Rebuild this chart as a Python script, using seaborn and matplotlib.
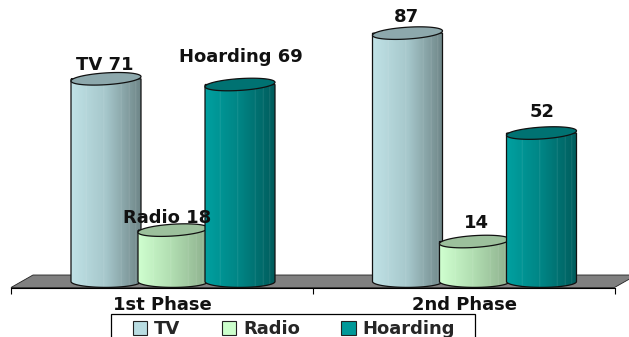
import numpy as np
import pandas as pd
import matplotlib
matplotlib.use("Agg")
import matplotlib.pyplot as plt
from matplotlib.colors import LinearSegmentedColormap
from matplotlib.path import Path
from matplotlib.patches import PathPatch, Polygon, Patch, Rectangle
import seaborn as sns

phases = ["1st Phase", "2nd Phase"]
series = ["TV", "Radio", "Hoarding"]
tv = [71, 87]
radio = [18, 14]
hoarding = [69, 52]
named_phase = [True, False]

swatch = ["#B9DDE2", "#CCFFCC", "#009999"]
shades = [["#C0E2E6", "#A6C7CB", "#6F8688"],
          ["#CFFFCF", "#B0DCB0", "#8DB08D"],
          ["#00A0A0", "#008484", "#005C5C"]]
caps = ["#8DA8AC", "#9CC09C", "#007272"]
stripes = [0.22, 0.47, 0.72, 0.84, 0.93]

W, H = 629, 337
base_px, axis_px = 281.5, 287.5
unit_px = 2.855
group_px = [173.0, 474.5]
step_px = group_px[1] - group_px[0]
tick_px = [11.0, 312.5, 614.5]
label_px = [162.5, 464.0]

sns.set_theme(style="white")
plt.rcParams["font.family"] = ["DejaVu Sans"]
plt.rcParams["font.weight"] = "bold"

fig = plt.figure(figsize=(W / 100, H / 100), dpi=100)
ax = fig.add_axes([0, (H - axis_px) / H, 1, axis_px / H])

frame = pd.DataFrame({
    "phase": phases * 3,
    "series": np.repeat(series, 2),
    "value": tv + radio + hoarding,
})
sns.barplot(data=frame, x="phase", y="value", hue="series", order=phases,
            hue_order=series, palette=swatch, width=201 / step_px, gap=0,
            saturation=1, legend=False, ax=ax, zorder=2)


def px_x(px):
    return (px - group_px[0]) / step_px


ax.set_xlim(px_x(0), px_x(W))
ax.set_ylim((base_px - axis_px) / unit_px, base_px / unit_px)
ax.set_xlabel("")
ax.set_ylabel("")
ax.set_yticks([])
ax.patch.set_alpha(0)

# Shared axis line with ticks between groups and labels centred under them
for name in ["top", "left", "right"]:
    ax.spines[name].set_visible(False)
ax.spines["bottom"].set_bounds(px_x(tick_px[0]), px_x(tick_px[-1]))
ax.spines["bottom"].set_color("black")
ax.spines["bottom"].set_linewidth(0.8)
ax.set_xticks([px_x(p) for p in tick_px], labels=[""] * 3)
ax.set_xticks([px_x(p) for p in label_px], labels=phases, minor=True)
ax.tick_params(axis="x", which="major", length=4, width=0.8, color="black", bottom=True)
ax.tick_params(axis="x", which="minor", length=0, pad=6, labelsize=13, labelcolor="#111111")

# Floor of the 3D scene
depth_x = 22 / step_px
floor_top = (base_px - 275) / unit_px
floor_low = ax.get_ylim()[0]
ax.add_patch(Polygon([(px_x(tick_px[0]), floor_low), (px_x(tick_px[0]) + depth_x, floor_top),
                      (px_x(tick_px[-1]) + depth_x, floor_top), (px_x(tick_px[-1]), floor_low)],
                     closed=True, facecolor="#808080", edgecolor="#222222", lw=0.6,
                     zorder=1, clip_on=False))

bar_width = 70 / step_px
rx_half = bar_width / 2
ry = 5.9 / unit_px
tilt = 2.2 / unit_px
theta = np.linspace(0, 2 * np.pi, 90)
lower = np.linspace(np.pi, 2 * np.pi, 45)


def make_cmap(stops):
    return LinearSegmentedColormap.from_list("shade", stops)


layer = 3
for s_idx, container in enumerate(ax.containers):
    cmap = make_cmap(shades[s_idx])
    band = cmap(np.linspace(0, 1, 140))
    for st in stripes:
        col = int(st * 139)
        band[col, :3] = band[col, :3] * 0.82 + 0.18
    band = band[np.newaxis, :, :]
    for bar in container:
        height = bar.get_height()
        cx = bar.get_x() + bar.get_width() / 2
        bar.set_alpha(0)
        left, right = cx - rx_half, cx + rx_half

        # Body outline: flat sides joined by the lower half of the base ellipse
        bx = cx + rx_half * np.cos(lower)
        by = ry * np.sin(lower)
        outline = np.vstack([[left, height], np.column_stack([bx, by]), [right, height], [left, height]])
        body = PathPatch(Path(outline), facecolor="none", edgecolor="#111111", lw=0.9,
                         transform=ax.transData, zorder=layer + 0.1, clip_on=False)
        ax.add_patch(body)
        img = ax.imshow(band, extent=(left, right, -2 * ry, height), aspect="auto",
                        interpolation="bilinear", zorder=layer, origin="lower")
        img.set_clip_path(body)

        # Slightly tilted elliptical cap
        tx = cx + rx_half * np.cos(theta)
        ty = height + ry * np.sin(theta) + tilt * np.cos(theta)
        ax.fill(tx, ty, facecolor=caps[s_idx], edgecolor="#111111", lw=0.9, zorder=layer + 0.2)
        layer += 1

# Value labels, with series names on the first phase only
offsets = {(0, 0): (-1, 14), (0, 1): (-6, 12), (0, 2): (1, 28),
           (1, 0): (-1, 16), (1, 1): (1.5, 19), (1, 2): (0.5, 21)}
for s_idx, container in enumerate(ax.containers):
    for p_idx, bar in enumerate(container):
        value = bar.get_height()
        text = f"{series[s_idx]} {value:.0f}" if named_phase[p_idx] else f"{value:.0f}"
        ax.annotate(text, (bar.get_x() + bar.get_width() / 2, value),
                    xytext=offsets[(p_idx, s_idx)], textcoords="offset pixels",
                    ha="center", va="center", fontsize=13, color="#111111",
                    fontweight="bold", zorder=50, annotation_clip=False)

ax.set_xlim(px_x(0), px_x(W))
ax.set_ylim((base_px - axis_px) / unit_px, base_px / unit_px)

# Legend box running off the lower edge of the figure, entries placed inside it
fig.add_artist(Rectangle((111 / W, -8 / H), 364 / W, (H - 314 + 8) / H, transform=fig.transFigure,
                         facecolor="white", edgecolor="black", lw=0.9))
handles = [Patch(facecolor=c, edgecolor="#222222", linewidth=0.8) for c in swatch]
leg = fig.legend(handles, series, loc="upper left",
                 bbox_to_anchor=(133 / W, (H - 320) / H), ncol=3, frameon=False,
                 fontsize=13, handlelength=0.78, handleheight=0.8, handletextpad=0.39,
                 columnspacing=2.3, borderpad=0, borderaxespad=0)

fig.savefig("out.png", dpi=100, facecolor="white")
